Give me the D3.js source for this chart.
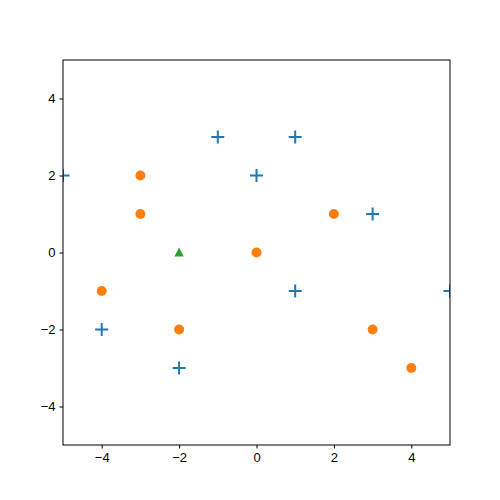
<!DOCTYPE html>
<html>
<head>
<meta charset="utf-8">
<script src="https://cdn.jsdelivr.net/npm/d3@7"></script>
<style>
  body { margin: 0; background: #fff; }
  svg { display: block; font-family: "DejaVu Sans", sans-serif; }
  .tick text { font-size: 13px; fill: #000; }
</style>
</head>
<body>
<svg id="chart" width="500" height="500"></svg>
<script>
/* ── Data ───────────────────────────────────────────────────────────────────── */
const crossX = [-5, -1, 1, 0, 3, 1, 5, -4, -2];
const crossY = [2, 3, 3, 2, 1, -1, -1, -2, -3];
const circleX = [-3, -3, 2, 0, -4, -2, 3, 4];
const circleY = [2, 1, 1, 0, -1, -2, -2, -3];
const triX = [-2];
const triY = [0];
const ticks = [-4, -2, 0, 2, 4];

/* ── Layout ─────────────────────────────────────────────────────────────────── */
const L = 63, R = 450, T = 60, B = 445;
const svg = d3.select("#chart");

const x = d3.scaleLinear().domain([-5, 5]).range([L, R]);
const y = d3.scaleLinear().domain([-5, 5]).range([B, T]);

svg.append("defs").append("clipPath").attr("id", "clip")
  .append("rect").attr("x", L).attr("y", T).attr("width", R - L).attr("height", B - T);

const plot = svg.append("g").attr("clip-path", "url(#clip)");

// Crosses
plot.selectAll("path.cross")
  .data(crossX.map((v, i) => [v, crossY[i]]))
  .join("path")
  .attr("class", "cross")
  .attr("d", d => {
    const cx = x(d[0]), cy = y(d[1]), h = 6.5;
    return `M${cx - h},${cy}H${cx + h}M${cx},${cy - h}V${cy + h}`;
  })
  .attr("stroke", "#1f77b4")
  .attr("stroke-width", 2)
  .attr("fill", "none");

// Circles
plot.selectAll("circle")
  .data(circleX.map((v, i) => [v, circleY[i]]))
  .join("circle")
  .attr("cx", d => x(d[0]))
  .attr("cy", d => y(d[1]))
  .attr("r", 5)
  .attr("fill", "#ff7f0e");

// Triangles
plot.selectAll("path.tri")
  .data(triX.map((v, i) => [v, triY[i]]))
  .join("path")
  .attr("class", "tri")
  .attr("d", d => {
    const cx = x(d[0]), cy = y(d[1]);
    return `M${cx},${cy - 5}L${cx + 4.7},${cy + 4}L${cx - 4.7},${cy + 4}Z`;
  })
  .attr("fill", "#2ca02c");

/* ── Axes ───────────────────────────────────────────────────────────────────── */
const fmt = d => d < 0 ? "\u2212" + (-d) : d;

svg.append("g")
  .attr("transform", `translate(0,${B})`)
  .call(d3.axisBottom(x).tickValues(ticks).tickSize(3.5).tickPadding(4).tickFormat(fmt))
  .call(g => g.select(".domain").remove());

svg.append("g")
  .attr("transform", `translate(${L},0)`)
  .call(d3.axisLeft(y).tickValues(ticks).tickSize(3.5).tickPadding(4).tickFormat(fmt))
  .call(g => g.select(".domain").remove());

svg.append("rect")
  .attr("x", L).attr("y", T).attr("width", R - L).attr("height", B - T)
  .attr("fill", "none").attr("stroke", "#000").attr("stroke-width", 1);
</script>
</body>
</html>
